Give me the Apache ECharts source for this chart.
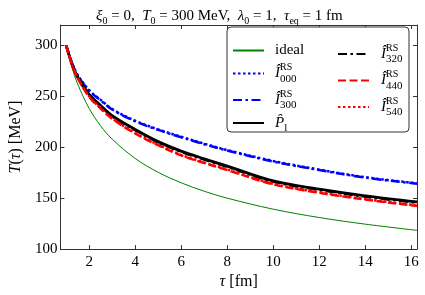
<!DOCTYPE html>
<html><head><meta charset="utf-8">
<script src="https://cdn.jsdelivr.net/npm/echarts@6/dist/echarts.min.js"></script>
<style>html,body{margin:0;padding:0;background:#fff}#c{width:425px;height:295px}</style>
</head><body><div id="c"></div>
<script>
const tau   = [1, 1.25, 1.5, 2, 2.5, 3, 4, 5, 6, 7, 8, 10, 12, 14, 16.25];
const ideal = [300, 278.5, 262.1, 238.1, 221.0, 208.0, 189.0, 175.4, 165.1, 156.8, 150.0, 139.2, 131.0, 124.5, 118.4];
const I000  = [300, 283, 271, 256, 246.5, 237.5, 226, 217.5, 210.3, 203.5, 197.2, 186.5, 178, 170.6, 164.6];
const I300  = [300, 282.7, 270.5, 255.5, 246, 237, 225.5, 217, 209.8, 203, 196.8, 186, 177.6, 170.2, 164.2];
const Pl    = [300, 282, 269, 252, 241, 231, 217.5, 205.5, 196.2, 188.6, 181.5, 166.9, 158.9, 152.3, 146.3];
const I320  = [300, 281.8, 268.5, 251.3, 240.2, 230.2, 216.7, 204.7, 195.4, 187.8, 180.7, 166.1, 158.1, 151.5, 145.5];
const I440  = [300, 281.5, 268, 249.5, 238, 228, 213.5, 202, 192, 184.5, 177.6, 163.6, 155.3, 148.6, 142.4];
const I540  = [300, 281.6, 268.3, 250, 238.5, 228.5, 214, 202.5, 192.5, 185, 178.1, 164.1, 155.8, 149.1, 142.9];
const xTicks = [2, 4, 6, 8, 10, 12, 14, 16];
const yTicks = [100, 150, 200, 250, 300];

const F = "'Liberation Serif','DejaVu Serif',serif";
const names = ['ideal', 'I000', 'I300', 'Pl', 'I320', 'I440', 'I540'];
const labels = {
  ideal: '{n|ideal}',
  I000: '{h|Î}{sup|RS}{sub|000}',
  I300: '{h|Î}{sup|RS}{sub|300}',
  Pl: '{h|P̂}{sub|l}',
  I320: '{h|Î}{sup|RS}{sub|320}',
  I440: '{h|Î}{sup|RS}{sub|440}',
  I540: '{h|Î}{sup|RS}{sub|540}'
};
const legRich = {
  n: {fontFamily: F, fontSize: 15, color: '#000', lineHeight: 22},
  h: {fontFamily: F, fontSize: 15, fontStyle: 'italic', color: '#000', lineHeight: 22},
  sup: {fontFamily: F, fontSize: 10, color: '#000', lineHeight: 12, verticalAlign: 'top', width: 0},
  sub: {fontFamily: F, fontSize: 11, color: '#000', lineHeight: 12, verticalAlign: 'bottom'}
};
function pairs(v) { return tau.map((t, i) => [t, v[i]]); }
function mk(name, data, color, width, type) {
  return {name, type: 'line', data: pairs(data), showSymbol: false, symbol: 'none',
    smooth: 0.35, animation: false,
    lineStyle: {color, width, type, cap: 'butt'}, itemStyle: {color}};
}
const axLine = {show: true, lineStyle: {color: '#333', width: 1}};
const chart = echarts.init(document.getElementById('c'));
const legBase = {orient: 'vertical', top: 43, padding: 0, itemWidth: 31, itemHeight: 14,
  itemGap: 4.5, z: 5, formatter: n => labels[n], itemStyle: {opacity: 0}, selectedMode: false};
chart.setOption({
  animation: false,
  backgroundColor: '#fff',
  title: {
    text: '{i|ξ}{s|0}{n| = 0,  }{i|T}{s|0}{n| = 300 MeV,  }{i|λ}{s|0}{n| = 1,  }{i|τ}{s|eq}{n| = 1 fm}',
    left: 91, top: 1,
    textStyle: {fontWeight: 'normal', rich: {
      n: {fontFamily: F, fontSize: 15, fontWeight: 'normal', color: '#000', lineHeight: 20},
      i: {fontFamily: F, fontSize: 15, fontWeight: 'normal', fontStyle: 'italic', color: '#000', lineHeight: 20},
      s: {fontFamily: F, fontSize: 10, fontWeight: 'normal', color: '#000', lineHeight: 12, verticalAlign: 'bottom'}
    }}
  },
  grid: {left: 56, right: 8, top: 25, bottom: 45},
  xAxis: [
    {type: 'value', min: 0.75, max: 16.25, position: 'bottom', axisLine: axLine,
     axisTick: {inside: true, length: 4, customValues: xTicks, lineStyle: {color: '#333'}},
     axisLabel: {customValues: xTicks, fontFamily: F, fontSize: 15, color: '#000', margin: 5},
     splitLine: {show: false},
     name: '{i|τ}{n| [fm]}', nameLocation: 'middle', nameGap: 23,
     nameTextStyle: {rich: {
       n: {fontFamily: F, fontSize: 16, color: '#000'},
       i: {fontFamily: F, fontSize: 16, fontStyle: 'italic', color: '#000'}}}},
    {type: 'value', min: 0.75, max: 16.25, position: 'top', axisLine: axLine,
     axisTick: {inside: true, length: 4, customValues: xTicks, lineStyle: {color: '#333'}},
     axisLabel: {show: false}, splitLine: {show: false}}
  ],
  yAxis: [
    {type: 'value', min: 100, max: 320, position: 'left', axisLine: axLine,
     axisTick: {inside: true, length: 4, customValues: yTicks, lineStyle: {color: '#333'}},
     axisLabel: {customValues: yTicks, fontFamily: F, fontSize: 15, color: '#000', margin: 3},
     splitLine: {show: false},
     name: '{i|T}{n|(}{i|τ}{n|) [MeV]}', nameLocation: 'middle', nameGap: 36,
     nameTextStyle: {rich: {
       n: {fontFamily: F, fontSize: 16, color: '#000'},
       i: {fontFamily: F, fontSize: 16, fontStyle: 'italic', color: '#000'}}}},
    {type: 'value', min: 100, max: 320, position: 'right', axisLine: axLine,
     axisTick: {inside: true, length: 4, customValues: yTicks, lineStyle: {color: '#333'}},
     axisLabel: {show: false}, splitLine: {show: false}}
  ],
  graphic: [{type: 'rect', z: 3, shape: {x: 227, y: 27, width: 182, height: 105, r: 4},
    style: {fill: '#fff', stroke: '#333', lineWidth: 1}}],
  legend: [
    Object.assign({}, legBase, {data: names.slice(0, 4), left: 232,
      textStyle: {padding: [0, 0, 0, 6], rich: legRich}}),
    Object.assign({}, legBase, {data: names.slice(4), left: 337,
      textStyle: {padding: [0, 0, 0, 7], rich: legRich}})
  ],
  series: [
    mk('ideal', ideal, '#008000', 1, 'solid'),
    mk('I000', I000, '#0000ff', 2.5, [2.5, 2.5]),
    mk('I300', I300, '#0000ff', 2.5, [9, 3.5, 2.5, 3.5]),
    mk('Pl', Pl, '#000000', 2.8, 'solid'),
    mk('I320', I320, '#000000', 2.5, [9, 3.5, 2.5, 3.5]),
    mk('I440', I440, '#ff0000', 2.5, [8, 3.5]),
    mk('I540', I540, '#ff0000', 2.5, [2.5, 2.5])
  ]
});
</script></body></html>
